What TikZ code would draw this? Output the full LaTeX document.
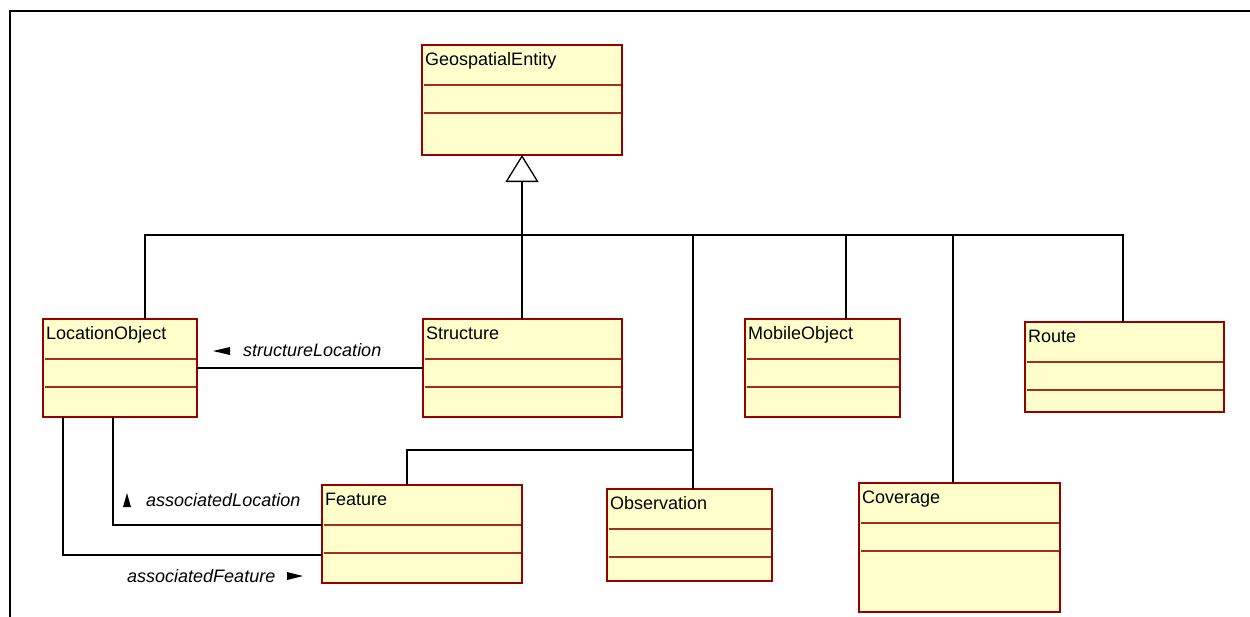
\documentclass[tikz,border=0pt]{standalone}
\usepackage{fontspec}
\setmainfont{Liberation Sans}
\usetikzlibrary{arrows.meta,calc}

\definecolor{classfill}{RGB}{255,255,204}
\definecolor{classline}{RGB}{153,0,0}
\definecolor{sepline}{RGB}{165,45,30}

\tikzset{
  classbox/.style={draw=classline, fill=classfill, line width=1.3pt, rectangle,
    inner sep=0pt, outer sep=0pt},
  sepline/.style={draw=sepline, line width=1.3pt},
  classname/.style={font=\fontsize{18}{21}\selectfont, inner sep=0pt, anchor=base west},
  rolename/.style={font=\fontsize{18}{21}\selectfont\itshape, inner sep=0pt, anchor=base west},
  conn/.style={draw=black, line width=1.3pt},
  navmark/.style={fill=black, draw=none},
  outerframe/.style={draw=black, line width=2.5pt},
}

% \umlclass{name}{left}{top}{right}{bottom}{divider 1}{divider 2}{class name}
\newcommand\umlclass[8]{%
  \node[classbox, anchor=north west, minimum width={#4pt-#2pt},
        minimum height={#5pt-#3pt}] (#1) at (#2,#3) {};
  \draw[sepline] (#2+1.5,#6) -- (#4-1.5,#6);
  \draw[sepline] (#2+1.5,#7) -- (#4-1.5,#7);
  \node[classname] (#1-name) at (#2+3,#3+20) {#8};
}

\begin{document}
\begin{tikzpicture}[x=1pt,y=-1pt]
  \useasboundingbox (0,0) rectangle (1250,616);
  \fill[white] (0,0) rectangle (1250,616);

  % frame
  \draw[outerframe] (1252,11) -- (10,11) -- (10,618);

  % classes
  \umlclass{geo}{422}{45}{622}{155}{85}{113}{GeospatialEntity}
  \umlclass{loc}{43}{319}{197}{417}{359}{387}{LocationObject}
  \umlclass{str}{423}{319}{622}{417}{359}{387}{Structure}
  \umlclass{mob}{745}{319}{900}{417}{359}{387}{MobileObject}
  \umlclass{route}{1025}{322}{1224}{412}{362}{390}{Route}
  \umlclass{feat}{322}{485}{522}{583}{525}{553}{Feature}
  \umlclass{obs}{607}{489}{772}{581}{529}{557}{Observation}
  \umlclass{cov}{859}{483}{1060}{612}{523}{551}{Coverage}

  % generalization tree
  \coordinate (hub) at (522,235);
  \coordinate (fjoin) at (693,450);
  \draw[conn] ([xshift=102pt]loc.north west) |- (hub);
  \draw[conn] ([xshift=99pt]str.north west) |- (hub);
  \draw[conn] ([xshift=86pt]obs.north west) |- (hub);
  \draw[conn] ([xshift=85pt]feat.north west) |- (fjoin);
  \draw[conn] ([xshift=101pt]mob.north west) |- (hub);
  \draw[conn] ([xshift=94pt]cov.north west) |- (hub);
  \draw[conn] ([xshift=98pt]route.north west) |- (hub);
  \draw[conn, -{Triangle[open, width=33pt, length=27pt]}] (hub) -- (geo.south);

  % associations
  \draw[conn] (loc.east) -- (str.west);
  \draw[conn] ([xshift=70pt]loc.south west) |- ([yshift=9pt]feat.west);
  \draw[conn] ([xshift=20pt]loc.south west) |- ([yshift=-21pt]feat.west);

  % role names with reading-direction marks
  \node[rolename] (role-str) at (243,356) {structureLocation};
  \fill[navmark] (213,351) -- (230,347) -- (230,355) -- cycle;
  \node[rolename] (role-loc) at (146,506) {associatedLocation};
  \fill[navmark] (127,493) -- (131,507) -- (123,507) -- cycle;
  \node[rolename] (role-feat) at (127,582) {associatedFeature};
  \fill[navmark] (303,576) -- (287,572) -- (287,580) -- cycle;
\end{tikzpicture}
\end{document}
